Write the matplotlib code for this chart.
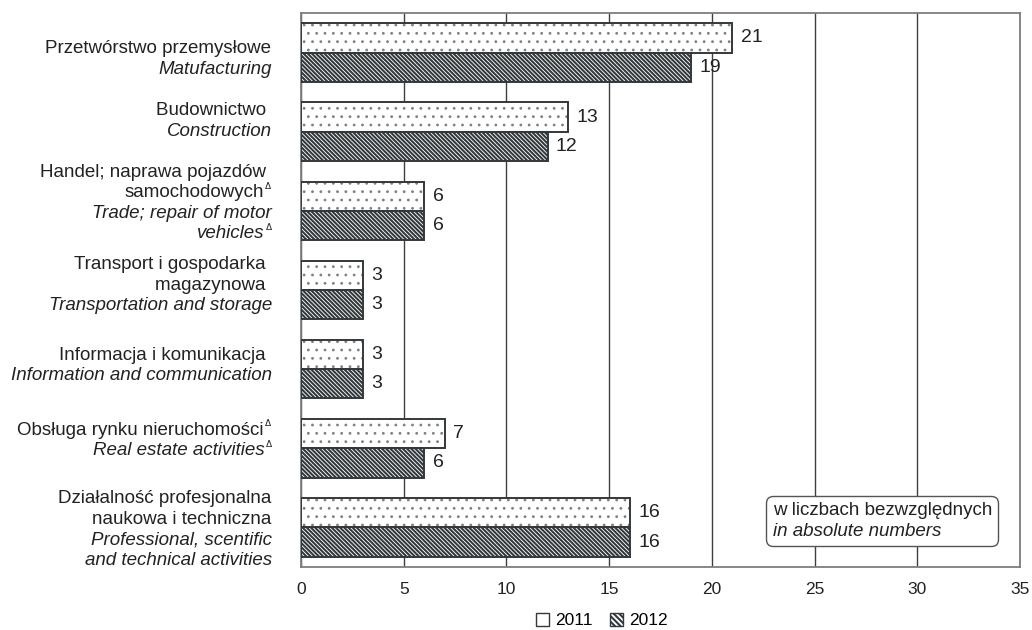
import numpy as np
import matplotlib.pyplot as plt
from matplotlib.patches import Patch
from matplotlib.offsetbox import TextArea, VPacker, AnnotationBbox

plt.rcParams['font.family'] = ['Liberation Sans', 'DejaVu Sans']
waski = ['Liberation Sans Narrow', 'Liberation Sans', 'DejaVu Sans']

# dane - kazda linia podpisu osobno, 'Δ' na koncu = indeks gorny
kategorie_pl = [['Przetwórstwo przemysłowe'],
                ['Budownictwo '],
                ['Handel; naprawa pojazdów ', 'samochodowychΔ'],
                ['Transport i gospodarka ', 'magazynowa '],
                ['Informacja i komunikacja '],
                ['Obsługa rynku nieruchomościΔ'],
                ['Działalność profesjonalna', 'naukowa i techniczna']]
kategorie_en = [['Matufacturing'],
                ['Construction'],
                ['Trade; repair of motor', 'vehiclesΔ'],
                ['Transportation and storage'],
                ['Information and communication'],
                ['Real estate activitiesΔ'],
                ['Professional, scentific', 'and technical activities']]
lata = ['2011', '2012']
w2011 = [21, 13, 6, 3, 3, 7, 16]
w2012 = [19, 12, 6, 3, 3, 6, 16]
xticki = [0, 5, 10, 15, 20, 25, 30, 35]

# drobne przesuniecia blokow podpisow w pionie (pt, w dol)
przes = [7, -5, -3, -1, 0, -3, 4]

fig = plt.figure(figsize=(10.32, 6.3), dpi=100)
ax = fig.add_axes([0.2917, 0.1, 0.6967, 0.8794])

y = np.arange(len(kategorie_pl))
h = 0.37
ciemny = '#33383c'

# wzor i obrys rysowane osobno (kropki szare, obrys ciemny)
plt.rcParams['hatch.linewidth'] = 0.8
ax.barh(y - h/2, w2011, height=h, color='white', edgecolor='#808080',
        hatch='..', linewidth=0, zorder=3)
plt.rcParams['hatch.linewidth'] = 1.5
ax.barh(y + h/2, w2012, height=h, color='white', edgecolor=ciemny,
        hatch='\\' * 8, linewidth=0, zorder=3)
ax.barh(y - h/2, w2011, height=h, fill=False, edgecolor=ciemny, linewidth=1.4, zorder=4)
ax.barh(y + h/2, w2012, height=h, fill=False, edgecolor=ciemny, linewidth=1.4, zorder=4)

for i in range(len(y)):
    ax.annotate(str(w2011[i]), (w2011[i], y[i] - h/2), xytext=(6, 0),
                textcoords='offset points', va='center', ha='left', fontsize=14, color='#222222')
    ax.annotate(str(w2012[i]), (w2012[i], y[i] + h/2), xytext=(6, 0),
                textcoords='offset points', va='center', ha='left', fontsize=14, color='#222222')

# podpisy kategorii - linia po linii, blok wysrodkowany na kategorii
odstep = 14.8   # pt miedzy liniami
for i in range(len(y)):
    linie = [(t, 'normal') for t in kategorie_pl[i]] + [(t, 'italic') for t in kategorie_en[i]]
    n = len(linie)
    for k, (t, st) in enumerate(linie):
        dy = -(k - (n - 1) / 2) * odstep - 0.7 - przes[i]
        prawa = -21.5 if st == 'normal' else -21
        if t.endswith('Δ'):
            t = t[:-1]
            ax.annotate('Δ', (0, y[i]), xycoords=('axes fraction', 'data'),
                        xytext=(prawa, dy + 6), textcoords='offset points', ha='right',
                        va='baseline', fontsize=6.5, color='#222222', family=['DejaVu Sans'])
            prawa -= 5.5
        ax.annotate(t, (0, y[i]), xycoords=('axes fraction', 'data'),
                    xytext=(prawa, dy), textcoords='offset points', ha='right',
                    va='baseline', fontsize=13.5, style=st, color='#222222')

ax.set_xlim(0, 35)
ax.set_ylim(len(y) - 0.5, -0.5)
ax.set_xticks(xticki)
ax.set_yticks([])
ax.tick_params(axis='x', length=0, pad=11, labelsize=12.5, labelcolor='#222222')
for lab in ax.get_xticklabels():
    lab.set_family(waski)
ax.grid(axis='x', color='#3f3f3f', linewidth=1.0, zorder=0)
for s in ax.spines.values():
    s.set_color('#7a7f85')
    s.set_linewidth(1.3)

# ramka z opisem jednostek
t1 = TextArea('w liczbach bezwzględnych', textprops=dict(fontsize=13.5, color='#222222'))
t2 = TextArea('in absolute numbers', textprops=dict(fontsize=13.5, style='italic', color='#222222'))
pudlo = VPacker(children=[t1, t2], align='left', pad=0, sep=3)
ab = AnnotationBbox(pudlo, (0.656, 0.083), xycoords='axes fraction', box_alignment=(0, 0.5),
                    frameon=True, pad=0.45,
                    bboxprops=dict(boxstyle='round,pad=0.45,rounding_size=0.5', fc='white',
                                   ec='#555555', lw=1.0))
ab.set_zorder(6)
ax.add_artist(ab)

uchwyty = [Patch(facecolor='white', edgecolor=ciemny, linewidth=1),
           Patch(facecolor='white', edgecolor=ciemny, hatch='\\' * 6, linewidth=1)]
fig.legend(uchwyty, lata, loc='center', bbox_to_anchor=(0.583, 0.015), ncol=2,
           frameon=False, handlelength=0.75, handleheight=0.75, handletextpad=0.35,
           columnspacing=1.0, prop=dict(family=waski, size=12.5))

fig.savefig('out.png', dpi=100)
